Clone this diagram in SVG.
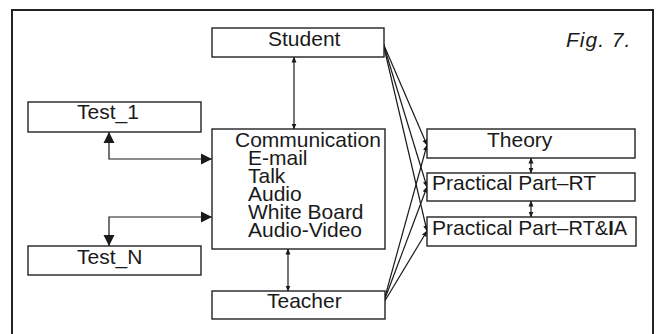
<svg xmlns="http://www.w3.org/2000/svg" width="659" height="334" viewBox="0 0 659 334">
<style>
.box{fill:#fff;stroke:#222;stroke-width:1.4}
.t{font-family:"Liberation Sans",Arial,sans-serif;font-size:21px;fill:#1a1a1a}
.c{fill:none;stroke:#1a1a1a;stroke-width:1.2}
.big{marker-start:url(#bigA);marker-end:url(#bigA)}
.sm{marker-start:url(#smA);marker-end:url(#smA)}
.fan{marker-end:url(#smA)}
</style>
<defs>
<marker id="bigA" markerUnits="userSpaceOnUse" markerWidth="12" markerHeight="12" viewBox="0 0 12 12" refX="11" refY="6" orient="auto-start-reverse">
<path d="M0,0.5 L11,6 L0,11.5 Z" fill="#1a1a1a"/>
</marker>
<marker id="smA" markerUnits="userSpaceOnUse" markerWidth="6" markerHeight="6" viewBox="0 0 6 6" refX="5.5" refY="3" orient="auto-start-reverse">
<path d="M0,0.5 L6,3 L0,5.5 Z" fill="#1a1a1a"/>
</marker>
</defs>
<rect x="0" y="0" width="659" height="334" fill="#fff"/>
<rect x="12" y="10" width="641" height="340" fill="none" stroke="#222" stroke-width="2"/>
<text class="t" x="566" y="47" font-style="italic" font-size="22" letter-spacing="1">Fig. 7.</text>
<g id="connectors">
<path class="c sm" d="M294,57 V129"/>
<path class="c sm" d="M288,249 V291"/>
<path class="c big" d="M212,159 H109 V132"/>
<path class="c big" d="M212,217 H109 V246"/>
<path class="c sm" d="M531,158 V173"/>
<path class="c sm" d="M531,201 V217"/>
<path class="c fan" d="M383,43 L427,145"/>
<path class="c fan" d="M383,43 L427,187"/>
<path class="c fan" d="M383,43 L427,231"/>
<path class="c fan" d="M383,304 L427,145"/>
<path class="c fan" d="M383,304 L427,187"/>
<path class="c fan" d="M383,304 L427,231"/>
</g>
<g id="student"><rect class="box" x="212" y="28" width="172" height="29"/><text class="t" x="268" y="46">Student</text></g>
<g id="communication"><rect class="box" x="212" y="129" width="173" height="120"/>
<text class="t" x="235" y="147">Communication</text>
<text class="t" x="248" y="165">E-mail</text>
<text class="t" x="248" y="183">Talk</text>
<text class="t" x="248" y="201">Audio</text>
<text class="t" x="248" y="219">White Board</text>
<text class="t" x="248" y="237">Audio-Video</text>
</g>
<g id="teacher"><rect class="box" x="212" y="291" width="173" height="28"/><text class="t" x="267" y="308">Teacher</text></g>
<g id="test1"><rect class="box" x="28" y="102" width="173" height="30"/><text class="t" x="77" y="119">Test_1</text></g>
<g id="testN"><rect class="box" x="28" y="246" width="173" height="29"/><text class="t" x="77" y="264">Test_N</text></g>
<g id="theory"><rect class="box" x="427" y="129" width="208" height="29"/><text class="t" x="487" y="147">Theory</text></g>
<g id="pprt"><rect class="box" x="427" y="173" width="208" height="28"/><text class="t" x="432" y="190">Practical Part–RT</text></g>
<g id="pprtia"><rect class="box" x="427" y="217" width="209" height="29"/><text class="t" x="432" y="235">Practical Part–<tspan font-size="20">RT&amp;</tspan><tspan font-size="20" font-weight="bold">I</tspan><tspan font-size="20">A</tspan></text></g>
</svg>
